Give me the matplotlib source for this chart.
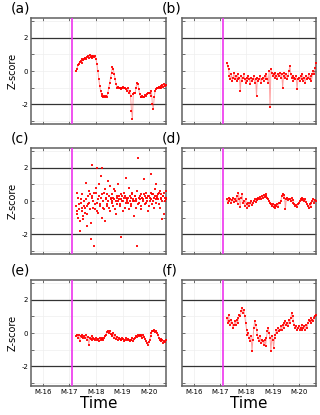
import numpy as np
import matplotlib
matplotlib.use("Agg")
import matplotlib.pyplot as plt

# ---------------------------------------------------------------
# Data (Z-score per panel)
# ---------------------------------------------------------------
month_ticks = [16, 17, 18, 19, 20]
month_labels = ["M-16", "M-17", "M-18", "M-19", "M-20"]
event_month = 17.1
t_start, t_end = 17.25, 20.64

z_a = [0.0, 0.15, 0.35, 0.45, 0.55, 0.6, 0.5, 0.7, 0.65, 0.75,
       0.8, 0.7, 0.85, 0.9, 0.8, 0.95, 0.85, 0.9, 0.8, 0.9,
       0.85, 0.9, 0.7, 0.4, 0.0, -0.5, -0.9, -1.2, -1.4, -1.5,
       -1.55, -1.5, -1.6, -1.5, -1.55, -1.3, -1.0, -0.7, -0.4, -0.1,
       0.25, 0.1, -0.2, -0.5, -0.8, -1.0, -0.95, -1.05, -1.0, -1.1,
       -1.0, -1.05, -0.95, -1.05, -1.0, -1.1, -1.2, -1.05, -1.3, -1.2,
       -1.5, -2.4, -2.9, -1.4, -1.3, -1.35, -1.0, -0.7, -0.8, -1.1,
       -1.4, -1.55, -1.6, -1.5, -1.6, -1.55, -1.45, -1.5, -1.4, -1.3,
       -1.35, -1.3, -1.5, -1.2, -2.0, -2.3, -1.6, -1.2, -1.1, -1.0,
       -1.05, -0.95, -1.0, -0.9, -1.0, -0.85, -0.95, -0.8, -0.9, -0.85]

z_b = [0.5, 0.3, 0.1, -0.3, -0.5, -0.2, -0.6, -0.4, -0.1, -0.5,
       -0.3, -0.6, -0.2, -0.5, -0.4, -1.2, -0.3, -0.6, -0.4, -0.2,
       -0.5, -0.7, -0.4, -0.6, -0.3, -0.5, -0.8, -0.4, -0.6, -0.5,
       -0.3, -0.7, -0.5, -1.5, -0.4, -0.6, -0.5, -0.3, -0.7, -0.5,
       -0.4, -0.6, -0.3, -0.5, -0.2, -0.5, -0.7, 0.0, -2.2, 0.1,
       -0.1, -0.3, -0.2, -0.4, -0.1, -0.3, -0.5, -0.2, -0.3, -0.1,
       -0.4, -0.2, -1.0, -0.3, -0.1, -0.4, -0.2, -0.5, -0.3, 0.0,
       0.3, -0.2, -0.4, -0.3, -0.6, -0.4, -0.5, -0.3, -1.1, -0.5,
       -0.4, -0.6, -0.3, -0.5, -0.2, -0.6, -0.4, -0.7, -0.3, -0.5,
       -0.4, -0.2, -0.5, -0.3, -0.6, -0.2, 0.0, -0.2, 0.2, 0.5]

z_c1 = [-0.3, -0.8, 0.2, -0.5, -1.2, -0.1, -0.6, 0.4, -0.9, -0.3,
        -0.4, 0.1, -1.5, -0.2, 0.6, -0.5, -2.3, 2.2, 0.3, -0.4,
        0.5, -0.2, 0.5, -0.6, 0.1, 1.0, -0.3, 0.2, -1.0, 0.4,
        0.0, -0.5, 0.7, 0.1, -0.2, 1.2, 0.3, -0.6, 0.2, 0.0,
        0.4, -0.3, 0.1, 0.6, -0.8, 0.2, 0.0, 0.3, -0.2, 0.1,
        -2.2, 0.3, 0.0, 0.5, -0.4, 0.2, 0.1, -0.1, 0.8, 0.0,
        0.2, -0.3, 0.4, 0.1, -0.9, 0.3, 0.0, 0.6, -0.2, 0.2,
        0.1, 0.4, -0.3, 0.2, 0.0, 1.3, 0.3, -0.1, 0.2, -0.6,
        0.3, 0.0, 0.5, 0.1, -0.2, 0.4, 0.2, 0.7, -0.1, 0.3,
        0.1, 0.5, -0.4, 0.2, 0.4, 0.0, 0.3, -0.8, 0.2, 0.1]

z_c2 = [-0.6, 0.5, -1.0, -0.2, -1.8, 0.1, -0.4, -1.1, 0.0, -0.7,
        1.1, -0.3, -0.8, 0.3, -0.1, 0.4, -1.3, 0.2, 0.0, -2.7,
        -0.5, 0.8, -0.1, 2.0, -0.7, 0.3, -0.2, 1.5, 2.0, -0.4,
        0.5, -1.2, 0.2, -0.3, 0.4, 0.0, -0.4, 0.9, 0.1, -0.1,
        0.2, 0.7, -0.5, 0.0, 0.3, -0.2, 1.0, 0.1, -0.3, 0.4,
        0.0, -0.6, 0.2, 0.3, -0.1, 1.4, 0.0, 0.2, -0.5, 0.3,
        -0.2, 0.5, 0.0, 0.0, 0.3, 0.1, -0.4, -2.7, 2.6, -0.1,
        0.3, -0.5, 0.2, 0.1, 0.4, -0.2, 0.2, 0.5, 0.0, 0.3,
        -0.3, 0.2, 1.6, 0.4, 0.0, -0.4, 0.3, 0.1, 1.0, 0.2,
        0.4, -0.2, 0.6, 0.1, -1.1, 0.3, 0.5, 0.0, 0.6, 0.2]

z_d = [0.1, -0.1, 0.2, 0.0, 0.15, -0.1, 0.05, 0.2, -0.05, 0.1,
       0.0, 0.3, -0.2, 0.5, 0.1, -0.35, 0.2, 0.4, -0.1, 0.0,
       -0.3, 0.1, -0.2, -0.4, -0.1, -0.3, -0.15, 0.0, -0.25, -0.1,
       0.0, 0.1, -0.05, 0.15, 0.05, 0.2, 0.1, 0.25, 0.15, 0.3,
       0.2, 0.35, 0.25, 0.4, 0.3, 0.2, 0.1, 0.0, -0.1, -0.2,
       -0.3, -0.2, -0.35, -0.25, -0.4, -0.3, -0.2, -0.35, -0.1, -0.15,
       0.0, 0.3, 0.45, 0.2, 0.35, -0.5, 0.1, 0.2, 0.05, 0.15,
       0.1, 0.0, 0.2, 0.05, -0.1, -0.2, -0.3, -0.25, -0.35, -0.2,
       -0.1, 0.0, 0.1, 0.2, 0.05, 0.15, 0.0, 0.1, -0.05, -0.2,
       -0.3, -0.45, -0.2, -0.35, -0.1, 0.0, 0.1, -0.1, 0.05, 0.0]

z_e = [-0.2, -0.1, -0.3, -0.15, -0.5, -0.2, -0.25, -0.1, -0.3, -0.2,
       -0.3, -0.15, -0.4, -0.25, -0.7, -0.3, -0.35, -0.2, -0.4, -0.3,
       -0.35, -0.4, -0.3, -0.45, -0.35, -0.5, -0.3, -0.4, -0.35, -0.3,
       -0.4, -0.3, -0.2, -0.1, 0.05, 0.1, 0.0, 0.15, -0.05, -0.1,
       -0.2, 0.0, -0.3, -0.15, -0.35, -0.25, -0.4, -0.3, -0.35, -0.45,
       -0.4, -0.3, -0.35, -0.5, -0.4, -0.3, -0.45, -0.35, -0.4, -0.5,
       -0.45, -0.4, -0.3, -0.5, -0.35, -0.3, -0.2, -0.25, -0.15, -0.2,
       -0.1, -0.2, -0.15, -0.3, -0.1, -0.25, -0.35, -0.5, -0.6, -0.7,
       -0.55, -0.4, -0.2, 0.0, 0.15, 0.1, 0.2, 0.05, 0.15, 0.0,
       -0.1, -0.3, -0.4, -0.5, -0.35, -0.45, -0.6, -0.5, -0.55, -0.4]

z_f = [0.9, 0.6, 1.1, 0.7, 0.5, 0.8, 0.6, 0.3, 0.5, 0.7,
       0.5, 0.8, 0.6, 0.9, 1.1, 1.0, 1.3, 1.5, 1.2, 1.4,
       1.0, 0.6, 0.2, -0.1, 0.0, -0.3, -0.5, -0.2, -1.1, -0.4,
       0.3, 0.7, 0.5, 0.2, -0.1, -0.3, -0.5, -0.2, -0.6, -0.4,
       -0.5, -0.7, -0.4, -0.8, -0.3, 0.1, 0.3, 0.0, -0.3, -1.1,
       -0.2, -0.4, -0.9, -0.3, -0.1, 0.2, 0.0, 0.3, 0.1, 0.2,
       0.4, 0.2, 0.5, 0.3, 0.6, 0.7, 0.5, 0.6, 0.4, 0.8,
       0.6, 0.9, 1.2, 1.0, 0.7, 0.5, 0.3, 0.4, 0.2, 0.3,
       0.4, 0.2, 0.3, 0.5, 0.2, 0.3, 0.4, 0.2, 0.5, 0.3,
       0.6, 0.8, 0.7, 0.9, 0.6, 0.8, 0.7, 0.9, 1.0, 1.1]

# (label, series, joined) -- joined=True draws a faint trace between points
panels = [("(a)", [z_a], True), ("(b)", [z_b], True),
          ("(c)", [z_c1, z_c2], False), ("(d)", [z_d], True),
          ("(e)", [z_e], True), ("(f)", [z_f], True)]

# ---------------------------------------------------------------
# Layout (pixel positions converted to figure fractions)
# ---------------------------------------------------------------
W, H = 320, 415
fig = plt.figure(figsize=(W / 100, H / 100), dpi=100)

col_left = [31, 182]
col_width = [135, 134]
row_top = [18, 148, 280]
row_height = 106

spine_color = "#606060"
for k, (label, series, joined) in enumerate(panels):
    r, c = divmod(k, 2)
    ax = fig.add_axes([col_left[c] / W, 1 - (row_top[r] + row_height) / H,
                       col_width[c] / W, row_height / H])

    for j, z in enumerate(series):
        n = len(z)
        step = (t_end - t_start) / (n - 1)
        t = np.linspace(t_start, t_end, n) + j * step / 2
        if joined:
            ax.plot(t, z, ls="-", lw=0.7, color="#ff3030", alpha=0.45,
                    zorder=3)
        ax.plot(t, z, ls="none", marker="s", ms=1.5, mew=0,
                color="#ff0000", alpha=0.9, zorder=3)

    ax.axhline(2, color="#333333", lw=0.9, zorder=2)
    ax.axhline(-2, color="#333333", lw=0.9, zorder=2)
    ax.axvline(event_month, color="#ee33ee", lw=1.2, zorder=4)

    ax.set_xlim(15.55, 20.64)
    ax.set_ylim(-3.2, 3.2)
    ax.set_xticks(month_ticks)
    ax.set_yticks([-2, 0, 2])
    ax.set_yticks([-3, -1, 1, 3], minor=True)
    ax.grid(True, which="both", color="#eeeeee", lw=0.5, zorder=0)
    ax.tick_params(which="both", direction="in", top=True, right=True,
                   length=2, width=0.6, color="#555555", labelsize=5, pad=2)

    if r == 2:
        ax.set_xticklabels(month_labels)
        ax.set_xlabel("Time", fontsize=11, labelpad=1)
    else:
        ax.set_xticklabels([])
    if c == 0:
        ax.set_yticklabels(["-2", "0", "2"])
        ax.set_ylabel("Z-score", fontsize=7, labelpad=3)
    else:
        ax.set_yticklabels([])

    for s in ax.spines.values():
        s.set_color(spine_color)
        s.set_linewidth(1.1)

    fig.text((col_left[c] - 20) / W, 1 - (row_top[r] - 9) / H, label,
             fontsize=10, ha="left", va="center")

fig.savefig("out.png", dpi=100)
